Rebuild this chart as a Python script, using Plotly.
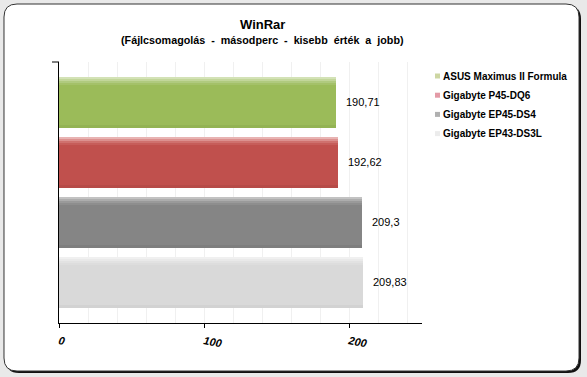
import plotly.graph_objects as go

# ---- data ----
categories = ["ASUS Maximus II Formula", "Gigabyte P45-DQ6", "Gigabyte EP45-DS4", "Gigabyte EP43-DS3L"]
values = [190.71, 192.62, 209.3, 209.83]
tick_vals = [0, 100, 200]
tick_text = ["0", "100", "200"]
title_line1 = "WinRar"
title_line2 = "(Fájlcsomagolás\u00a0 -\u00a0 másodperc\u00a0 -\u00a0 kisebb\u00a0 érték\u00a0 a\u00a0 jobb)"

# ---- styles ----
base_colors = ["#9bbb59", "#c0504d", "#858585", "#d9d9d9"]
top_grad = [
    ["#d3e2b6", "#c2d69a", "#b0ca7f", "#a4c169"],
    ["#e8b3b2", "#dc918f", "#cf716e", "#c65d5a"],
    ["#c2c2c2", "#adadad", "#9a9a9a", "#8e8e8e"],
    ["#f0f0f0", "#e9e9e9", "#e2e2e2", "#dddddd"],
]
lo_colors = ["#93b353", "#b64b48", "#7e7e7e", "#d2d2d2"]
legend_colors = ["#cdd6a2", "#e39aa6", "#b0b0b0", "#ececec"]

W, H = 587, 377
L, R, T, B = 59, 422, 62, 323  # plot area in pixels


def px(x):
    return (x - L) / (R - L)


def py(y):
    return (B - y) / (B - T)


def rrect(x0, y0, x1, y1, r):
    pts = [
        ("M", [(x0 + r, y0)]),
        ("L", [(x1 - r, y0)]),
        ("Q", [(x1, y0), (x1, y0 + r)]),
        ("L", [(x1, y1 - r)]),
        ("Q", [(x1, y1), (x1 - r, y1)]),
        ("L", [(x0 + r, y1)]),
        ("Q", [(x0, y1), (x0, y1 - r)]),
        ("L", [(x0, y0 + r)]),
        ("Q", [(x0, y0), (x0 + r, y0)]),
    ]
    s = ""
    for cmd, ps in pts:
        s += cmd + " " + " ".join(f"{px(a):.5f},{py(b):.5f}" for a, b in ps) + " "
    return s + "Z"


ypos = list(range(len(categories)))
fig = go.Figure()

bw = 0.85
sw = 0.035
for i, (c, v) in enumerate(zip(categories, values)):
    fig.add_trace(go.Bar(x=[v], y=[ypos[i]], orientation="h", width=bw, offset=-bw / 2,
                         marker=dict(color=base_colors[i], line=dict(width=0)),
                         showlegend=False, hoverinfo="skip"))
    for k, col in enumerate(top_grad[i]):
        fig.add_trace(go.Bar(x=[v], y=[ypos[i]], orientation="h", width=sw, offset=-bw / 2 + k * sw,
                             marker=dict(color=col, line=dict(width=0)),
                             showlegend=False, hoverinfo="skip"))
    fig.add_trace(go.Bar(x=[v], y=[ypos[i]], orientation="h", width=0.04, offset=bw / 2 - 0.04,
                         marker=dict(color=lo_colors[i], line=dict(width=0)),
                         showlegend=False, hoverinfo="skip"))

annotations = []
for i, v in enumerate(values):
    annotations.append(dict(x=v, y=ypos[i], xref="x", yref="y", text=str(v).replace(".", ","),
                            showarrow=False, xanchor="left", xshift=8,
                            font=dict(family="Liberation Sans, Arial", size=11, color="#000")))
annotations.append(dict(x=px(262), y=py(24), xref="paper", yref="paper", text=f"<b>{title_line1}</b>",
                        showarrow=False, xanchor="center", yanchor="middle",
                        font=dict(family="Liberation Sans, Arial", size=13, color="#000")))
annotations.append(dict(x=px(262), y=py(40), xref="paper", yref="paper", text=f"<b>{title_line2}</b>",
                        showarrow=False, xanchor="center", yanchor="middle",
                        font=dict(family="Liberation Sans, Arial", size=10.75, color="#000")))

shapes = [
    dict(type="path", xref="paper", yref="paper", path=rrect(6, 6, 581, 373, 13),
         fillcolor="#111", line=dict(width=0), layer="below"),
    dict(type="path", xref="paper", yref="paper", path=rrect(4, 4, 579, 371, 13),
         fillcolor="#ffffff", line=dict(width=1, color="#333"), layer="below"),
    dict(type="line", xref="paper", yref="paper", x0=px(52), x1=px(59), y0=py(62), y1=py(62),
         line=dict(color="#000", width=1)),
]

# manual legend (swatch + label)
leg_x, leg_y0, leg_dy = 435, 76, 19.2
for i, c in enumerate(categories):
    yc = leg_y0 + i * leg_dy
    shapes.append(dict(type="rect", xref="paper", yref="paper",
                       x0=px(leg_x), x1=px(leg_x + 5), y0=py(yc - 2.5), y1=py(yc + 2.5),
                       fillcolor=legend_colors[i], line=dict(width=0)))
    annotations.append(dict(x=px(leg_x + 6), y=py(yc), xref="paper", yref="paper",
                            text=f"<b>{c}</b>", showarrow=False, xanchor="left", yanchor="middle",
                            font=dict(family="Liberation Sans, Arial", size=10, color="#000")))

fig.update_layout(
    width=W, height=H,
    margin=dict(l=L, r=W - R, t=T, b=H - B, pad=0, autoexpand=False),
    paper_bgcolor="#e9e9e9",
    plot_bgcolor="rgba(0,0,0,0)",
    barmode="overlay",
    bargap=0,
    showlegend=False,
    annotations=annotations,
    shapes=shapes,
    xaxis=dict(range=[0, (R - L) / 1.45], tickvals=tick_vals, ticktext=tick_text,
               showgrid=True, gridcolor="#f0f0f0", gridwidth=1,
               minor=dict(dtick=20, showgrid=True, gridcolor="#f0f0f0", ticks=""),
               showline=True, linecolor="#000", linewidth=1,
               ticks="outside", ticklen=4, tickcolor="#000", tickangle=10,
               ticklabelstandoff=3,
               tickfont=dict(family="Liberation Sans, Arial", size=11, color="#000",
                             weight="bold", style="italic"),
               zeroline=False, fixedrange=True),
    yaxis=dict(range=[3.683, -0.667], showticklabels=False, showgrid=False, zeroline=False,
               showline=True, linecolor="#000", linewidth=1, ticks="", fixedrange=True),
)

fig.write_html("out.html", config={"displayModeBar": False},
               post_script="document.body.style.margin='0';document.body.style.overflow='hidden';")
